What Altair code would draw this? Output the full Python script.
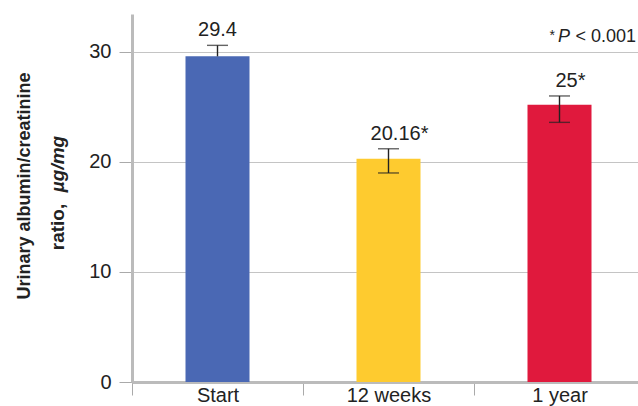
import altair as alt
import pandas as pd

categories = ["Start", "12 weeks", "1 year"]
means = [29.6, 20.3, 25.2]
err_low = [29.6, 19.0, 23.6]
err_high = [30.6, 21.2, 26.0]
labels = ["29.4", "20.16*", "25*"]
starred = [False, True, True]
colors = ["#4A68B4", "#FECB2F", "#E0193D"]
y_ticks = [0, 10, 20, 30]
y_max = 33.45

df = pd.DataFrame({
    "cat": categories,
    "mean": means,
    "lo": err_low,
    "hi": err_high,
    "label": labels,
    "star": starred,
})

FONT = "Liberation Sans"

x_enc = alt.X(
    "cat:N",
    sort=categories,
    scale=alt.Scale(range=[0, 513], paddingInner=0, paddingOuter=0),
    axis=alt.Axis(
        title=None, grid=False, domainColor="#bbbbbb", domainWidth=3,
        tickBand="extent", tickColor="#aaaaaa", tickSize=13, tickWidth=1,
        labelFont=FONT, labelFontSize=20, labelColor="#222222",
        labelPadding=-10, labelAngle=0,
    ),
)
y_scale = alt.Scale(domain=[0, y_max], nice=False, zero=True)

base = alt.Chart(df)

bars = base.mark_bar(width=64).encode(
    x=x_enc,
    y=alt.Y(
        "mean:Q",
        scale=y_scale,
        axis=alt.Axis(
            title=None, values=y_ticks, grid=True, gridColor="#c4c4c4", gridWidth=1.2,
            domainColor="#bbbbbb", domainWidth=3, tickColor="#aaaaaa", tickSize=13,
            labelFont=FONT, labelFontSize=20, labelColor="#222222", labelPadding=8,
        ),
    ),
    color=alt.Color("cat:N", scale=alt.Scale(domain=categories, range=colors), legend=None),
)

err = base.mark_rule(color="#222222", strokeWidth=1.4).encode(
    x=alt.X("cat:N", sort=categories),
    y=alt.Y("lo:Q", scale=y_scale),
    y2="hi:Q",
)
cap_hi = base.mark_tick(color="#222222", thickness=1.4, size=21).encode(
    x=alt.X("cat:N", sort=categories),
    y=alt.Y("hi:Q", scale=y_scale),
)
cap_lo = base.transform_filter("datum.lo < datum.mean").mark_tick(
    color="#222222", thickness=1.4, size=21
).encode(
    x=alt.X("cat:N", sort=categories),
    y=alt.Y("lo:Q", scale=y_scale),
)

lab_plain = base.transform_filter("!datum.star").mark_text(
    font=FONT, fontSize=20, color="#222222", baseline="alphabetic", dy=-9
).encode(
    x=alt.X("cat:N", sort=categories),
    y=alt.Y("hi:Q", scale=y_scale),
    text="label:N",
)
lab_star = base.transform_filter("datum.star").mark_text(
    font=FONT, fontSize=20, color="#222222", baseline="alphabetic", dy=-9, dx=11
).encode(
    x=alt.X("cat:N", sort=categories),
    y=alt.Y("hi:Q", scale=y_scale),
    text="label:N",
)

one = pd.DataFrame({"k": [0]})

def txt(s, x, y, **kw):
    return alt.Chart(one).mark_text(font=FONT, color="#222222", **kw).encode(
        x=alt.value(x), y=alt.value(y), text=alt.value(s)
    )

title1 = txt("Urinary albumin/creatinine", -107, 172, fontSize=18, fontWeight="bold",
             angle=270, align="center", baseline="middle")
title2a = txt("ratio,", -74, 213, fontSize=19, fontWeight="bold",
              angle=270, align="center", baseline="middle")
title2b = txt("\u00b5g/mg", -74, 150, fontSize=19, fontWeight="bold", fontStyle="italic",
              angle=270, align="center", baseline="middle")

note_a = txt("< 0.001", 504, 28, fontSize=18, align="right", baseline="alphabetic")
note_p = txt("P", 438, 28, fontSize=18, fontStyle="italic", align="right", baseline="alphabetic")
note_s = txt("*", 423, 26, fontSize=14, align="right", baseline="alphabetic")

chart = alt.layer(
    bars, err, cap_hi, cap_lo, lab_plain, lab_star,
    title1, title2a, title2b, note_a, note_p, note_s,
).properties(
    width=506,
    height=368,
    autosize=alt.AutoSizeParams(type="none"),
    padding={"left": 132, "top": 14, "right": 0, "bottom": 24},
).configure_view(strokeWidth=0)

chart.save("out.html", embed_options={"renderer": "svg", "actions": False})
